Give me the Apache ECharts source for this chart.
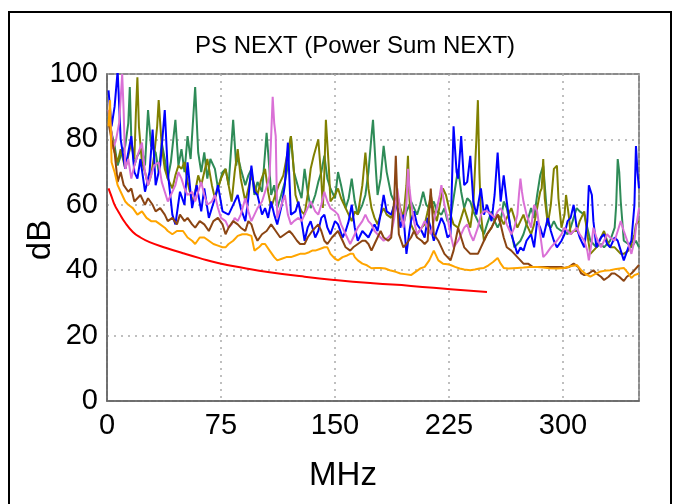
<!DOCTYPE html>
<html>
<head>
<meta charset="utf-8">
<script src="https://cdn.jsdelivr.net/npm/echarts@6/dist/echarts.min.js"></script>
<style>
html,body{margin:0;padding:0;background:#fff;}
#chart{width:679px;height:504px;}
</style>
</head>
<body>
<div id="chart"></div>
<script>
// ---- data (MHz, dB) ----
const titleText = "PS NEXT (Power Sum NEXT)";
const xName = "MHz";
const yName = "dB";
const xTicks = [0, 75, 150, 225, 300];
const yTicks = [0, 20, 40, 60, 80, 100];

const limitRed = [[1,65],[3,62.5],[5,60],[8,57.5],[12,54.5],[17,51.7],[22,50],[28,48.6],[39,46.8],[50,45.2],[61,43.7],[73,42.2],[90,40.7],[107,39.4],[130,38],[150,37],[175,36],[200,35.2],[226,34.2],[250,33.3]];

const pairBlue = [[1,95],[3,84],[5,90],[7,101],[9,80],[12,71],[14,76],[16,81],[18,70],[20,68],[22,74],[25,64],[28,70],[30,83],[32,66],[35,72],[38,89],[40,70],[43,57],[45,54],[48,64],[51,60],[53,73],[56,59],[59,66],[62,58],[64,65],[67,56],[69,59],[71,62],[73,66],[76,58],[80,57],[83,60],[86,63],[88,59],[91,55],[93,62],[95,72],[97,64],[99,63],[102,57],[104,59],[106,56],[108,61],[110,57],[112,54],[115,60],[117,66],[119,79],[121,57],[124,58],[126,61],[128,55],[130,49],[132,53],[134,55],[137,50],[139,52],[141,56],[143,57],[145,53],[147,51],[150,55],[152,54],[155,50],[157,52],[159,55],[161,60],[163,53],[165,49],[168,52],[170,51],[172,50],[174,52],[176,54],[178,52],[180,57],[182,63],[184,58],[187,57],[189,60],[191,59],[193,53],[195,57],[197,45],[199,52],[200,55],[202,58],[204,54],[207,52],[209,50],[211,56],[213,53],[215,49],[217,52],[220,56],[222,54],[224,50],[226,51],[228,84],[230,70],[231,68],[233,81],[235,66],[237,67],[239,75],[241,61],[243,57],[246,65],[248,57],[250,60],[253,55],[255,63],[257,76],[259,61],[261,69],[263,61],[266,51],[268,48],[270,45],[272,47],[274,46],[276,49],[279,51],[281,47],[283,55],[285,53],[287,50],[290,56],[292,52],[294,49],[296,47],[299,49],[301,51],[303,55],[305,56],[307,60],[309,53],[311,50],[314,47],[316,55],[317,66],[319,63],[320,55],[322,47],[325,50],[327,51],[329,48],[331,47],[334,50],[336,49],[338,46],[340,43],[343,47],[345,49],[347,60],[348,78],[349,70],[350,65]];

const pairGreen = [[1,87],[3,82],[5,78],[7,72],[9,75],[12,78],[14,85],[15,96],[16,80],[18,72],[20,75],[23,77],[25,72],[27,89],[29,78],[32,76],[34,70],[36,79],[38,74],[40,68],[42,73],[45,86],[47,72],[49,77],[51,70],[53,81],[55,74],[58,96],[60,76],[62,70],[64,76],[66,68],[68,74],[71,71],[73,65],[76,70],[78,71],[80,66],[83,86],[85,72],[86,75],[88,71],[91,66],[93,69],[95,71],[97,63],[99,67],[102,64],[105,82],[107,70],[108,63],[110,66],[112,59],[114,62],[117,67],[119,72],[121,81],[123,70],[126,65],[128,62],[130,71],[132,64],[134,59],[137,63],[139,67],[141,70],[143,75],[145,68],[147,65],[150,62],[152,70],[154,66],[157,59],[159,62],[161,68],[163,61],[165,57],[168,60],[170,63],[172,70],[174,81],[175,86],[177,70],[178,63],[180,68],[182,78],[184,70],[187,63],[189,61],[191,59],[193,56],[195,54],[197,58],[200,61],[202,59],[204,57],[206,60],[208,64],[210,60],[212,59],[215,61],[217,58],[220,57],[222,59],[224,55],[226,56],[228,62],[231,71],[233,64],[235,59],[237,62],[239,61],[241,58],[244,55],[246,53],[248,51],[250,54],[253,58],[255,55],[257,53],[259,55],[261,61],[263,59],[266,52],[268,47],[270,48],[272,49],[274,51],[276,54],[279,59],[281,56],[283,63],[285,69],[287,72],[289,60],[290,54],[292,53],[294,55],[296,53],[299,52],[301,52],[303,51],[305,53],[307,56],[309,59],[311,58],[314,57],[316,53],[318,49],[320,48],[322,47],[325,48],[327,47],[329,48],[331,49],[334,53],[335,60],[336,74],[337,70],[338,61],[340,49],[343,48],[345,47],[348,49],[350,47]];

const pairOlive = [[1,86],[3,82],[5,76],[7,73],[9,77],[12,71],[14,75],[16,79],[18,74],[19,88],[20,99],[21,84],[23,73],[25,70],[27,66],[29,69],[31,75],[33,84],[34,92],[36,78],[38,71],[40,68],[43,65],[45,69],[47,72],[49,71],[51,73],[53,67],[56,61],[58,64],[60,69],[62,66],[64,70],[66,74],[69,66],[71,62],[73,65],[75,68],[78,71],[80,66],[82,61],[84,70],[86,77],[88,68],[91,61],[93,65],[95,69],[97,66],[99,63],[101,67],[104,71],[106,64],[108,59],[110,62],[113,66],[116,69],[118,74],[121,81],[123,70],[124,63],[126,60],[128,58],[130,57],[132,63],[134,71],[136,75],[139,80],[141,68],[142,59],[143,70],[144,86],[146,71],[147,61],[150,63],[152,65],[154,62],[157,59],[159,57],[161,55],[163,58],[165,57],[168,66],[170,76],[172,65],[174,59],[176,56],[178,54],[180,57],[182,59],[184,57],[187,56],[189,60],[191,63],[193,59],[195,56],[197,66],[198,75],[199,62],[200,54],[202,52],[204,51],[207,53],[209,54],[211,58],[213,63],[215,58],[217,55],[219,60],[221,65],[223,63],[224,61],[226,57],[228,54],[231,53],[233,56],[235,59],[237,56],[239,53],[241,60],[243,80],[244,92],[245,70],[246,57],[248,49],[250,51],[253,53],[255,55],[257,57],[259,56],[261,54],[263,56],[266,59],[268,56],[270,53],[272,55],[274,57],[276,54],[279,51],[281,54],[283,59],[285,64],[286,65],[287,74],[288,62],[290,54],[292,60],[294,71],[296,72],[297,62],[299,53],[301,57],[302,63],[304,56],[305,51],[307,52],[309,52],[311,55],[314,58],[316,51],[318,45],[320,46],[322,47],[325,50],[327,52],[329,49],[331,47],[334,47],[336,46],[338,45],[340,45],[343,46],[345,48],[347,51],[348,54],[350,55]];

const pairViolet = [[1,89],[3,82],[4,77],[6,80],[8,85],[10,100],[11,88],[12,71],[14,74],[16,68],[18,72],[20,75],[23,79],[25,70],[27,66],[29,69],[31,72],[34,73],[36,67],[38,64],[40,61],[43,64],[45,66],[47,70],[49,68],[51,65],[53,63],[56,64],[58,61],[60,64],[62,67],[64,63],[66,60],[69,61],[71,63],[73,59],[75,56],[78,55],[80,53],[82,54],[84,56],[86,55],[88,57],[91,62],[93,58],[95,55],[97,57],[99,59],[102,61],[104,64],[106,67],[107,69],[109,93],[110,85],[111,81],[112,56],[114,59],[117,63],[119,57],[121,54],[123,55],[126,56],[128,55],[130,57],[132,59],[134,61],[137,58],[139,57],[141,60],[143,64],[145,61],[147,59],[150,58],[152,57],[154,54],[157,51],[160,48],[162,50],[165,53],[168,55],[170,57],[172,55],[174,54],[176,52],[178,51],[180,50],[182,49],[185,50],[187,51],[189,56],[191,65],[193,58],[195,53],[197,60],[198,71],[199,65],[200,61],[202,55],[204,51],[207,53],[209,55],[211,53],[213,51],[215,55],[217,59],[219,63],[220,66],[222,60],[224,56],[226,51],[228,47],[231,49],[233,51],[235,53],[237,54],[239,51],[241,49],[244,53],[246,57],[248,58],[250,58],[253,57],[255,56],[257,58],[259,59],[261,57],[263,54],[266,51],[268,53],[270,57],[271,63],[272,68],[273,64],[274,61],[276,57],[279,53],[281,60],[283,58],[285,51],[287,44],[289,45],[292,47],[294,48],[296,49],[299,51],[301,53],[303,52],[305,51],[307,52],[309,53],[311,51],[314,49],[316,46],[317,43],[319,49],[320,53],[322,50],[325,47],[327,49],[329,51],[331,50],[334,49],[336,52],[338,55],[340,52],[343,48],[345,45],[347,49],[348,53],[350,59]];

const pairBrown = [[1,85],[3,80],[5,76],[7,67],[9,70],[11,66],[14,64],[16,65],[18,61],[20,62],[22,63],[25,60],[27,62],[30,60],[32,58],[35,59],[38,57],[40,55],[43,56],[46,54],[48,57],[51,55],[53,56],[56,54],[58,53],[61,55],[64,54],[67,52],[70,55],[73,56],[76,54],[78,51],[80,53],[83,55],[86,54],[88,53],[91,52],[93,55],[95,54],[97,51],[99,49],[102,51],[105,52],[108,54],[111,52],[114,50],[117,51],[120,52],[122,51],[125,49],[127,48],[130,48],[132,50],[135,52],[137,53],[139,54],[141,52],[143,49],[145,48],[148,50],[150,51],[152,52],[155,49],[157,47],[160,46],[162,47],[165,48],[168,49],[170,49],[172,48],[174,46],[176,48],[178,50],[180,52],[182,50],[185,49],[187,50],[189,62],[190,75],[191,62],[192,51],[195,47],[197,48],[200,50],[202,52],[204,50],[207,49],[209,48],[211,49],[212,58],[213,65],[214,58],[215,51],[218,49],[220,47],[222,45],[224,44],[226,43],[228,46],[231,53],[233,50],[235,47],[237,46],[239,45],[241,45],[244,45],[246,47],[248,49],[250,51],[253,53],[255,55],[257,57],[259,54],[261,50],[263,47],[266,46],[268,45],[270,44],[272,43],[274,42],[277,42],[280,41],[283,41],[286,41],[289,41],[292,41],[296,41],[299,41],[301,40.7],[304,41],[307,42],[310,41],[312,39],[314,38.5],[317,39],[320,40],[322,39],[325,38],[327,37],[330,38],[332,39],[334,39],[337,38],[340,36.7],[342,38],[345,39],[347,40],[350,41.6]];

const pairOrange = [[1,84],[2,92],[3,73],[5,70],[7,66],[9,64],[12,61],[14,60],[17,59],[20,57],[23,58],[26,56],[29,55],[32,55],[35,54],[38,53],[40,52],[43,51],[46,52],[50,52],[53,50],[56,49],[58,48],[61,50],[64,50],[67,49],[70,48],[73,47.5],[76,47],[78,47],[80,48],[83,49],[86,50.5],[89,51],[92,51],[95,50.5],[97,46],[100,47],[102,48],[104,48],[107,46],[110,44],[112,43],[115,43.5],[118,44],[121,44],[124,44.5],[127,45],[130,45],[133,45.5],[135,46],[137,46],[140,46.5],[143,47],[145,47],[147,45],[150,43.5],[152,43],[155,44],[158,44.5],[160,45],[162,45],[163,44],[165,43],[168,42],[171,41.5],[174,40.6],[177,40.7],[180,40.7],[183,40.5],[186,40],[190,39.5],[193,39],[196,38.8],[200,38.5],[203,39.5],[206,40.5],[209,41],[212,43],[215,46],[218,43],[221,42],[224,41.8],[226,41.6],[229,41],[232,40.5],[235,40.2],[239,40],[242,40.2],[245,40.5],[248,40.7],[251,41.5],[254,42.5],[257,43.7],[259,42],[261,40.7],[264,40.5],[267,40.6],[270,40.7],[274,40.8],[278,41],[283,41],[287,40.8],[291,40.6],[296,40.5],[301,40.7],[305,41.2],[309,41.6],[312,40],[315,38.8],[318,38],[321,38.8],[324,39.5],[327,39.8],[331,40],[335,40.4],[340,40.7],[343,39],[345,37.6],[347,38.5],[350,39]];

const seriesList = [
  {name: "green",  color: "#2e8b57", data: pairGreen},
  {name: "olive",  color: "#808000", data: pairOlive},
  {name: "blue",   color: "#0000ff", data: pairBlue},
  {name: "violet", color: "#da70d6", data: pairViolet},
  {name: "brown",  color: "#8b4513", data: pairBrown},
  {name: "orange", color: "#ffa500", data: pairOrange},
  {name: "limit",  color: "#ff0000", data: limitRed, smooth: true}
];

const FONT = "'Liberation Sans', Arial, Helvetica, sans-serif";
const chart = echarts.init(document.getElementById('chart'), null, {renderer: 'canvas'});

const option = {
  animation: false,
  backgroundColor: '#ffffff',
  grid: {left: 107, right: 40, top: 74, bottom: 103, show: true, borderColor: '#666', borderWidth: 1.5, backgroundColor: 'transparent'},
  xAxis: {
    type: 'value', min: xTicks[0], max: 350, interval: xTicks[1] - xTicks[0],
    axisLine: {show: true, lineStyle: {color: '#666', width: 1.5}},
    axisTick: {show: false},
    axisLabel: {color: '#000', fontSize: 29, fontFamily: FONT, margin: 10, showMaxLabel: false,
      formatter: v => xTicks.indexOf(v) >= 0 ? String(v) : ''},
    splitLine: {show: true, lineStyle: {color: '#aaa', width: 1.5, type: [2, 5]}}
  },
  yAxis: {
    type: 'value', min: yTicks[0], max: yTicks[yTicks.length - 1], interval: yTicks[1] - yTicks[0],
    axisLine: {show: true, lineStyle: {color: '#666', width: 1.5}},
    axisTick: {show: false},
    axisLabel: {color: '#000', fontSize: 29, fontFamily: FONT, margin: 9},
    splitLine: {show: true, lineStyle: {color: '#aaa', width: 1.5, type: [2, 5]}}
  },
  graphic: [
    {type: 'rect', silent: true, z: 100, shape: {x: 9, y: 12, width: 662, height: 540},
      style: {fill: 'none', stroke: '#000', lineWidth: 2}},
    {type: 'text', silent: true, x: 355, y: 46, style: {text: titleText, font: '24px ' + FONT, fill: '#000', textAlign: 'center', textVerticalAlign: 'middle'}},
    {type: 'text', silent: true, x: 41, y: 240, rotation: Math.PI / 2, style: {text: yName, font: '33px ' + FONT, fill: '#000', textAlign: 'center', textVerticalAlign: 'middle'}},
    {type: 'text', silent: true, x: 343, y: 476, style: {text: xName, font: '33px ' + FONT, fill: '#000', textAlign: 'center', textVerticalAlign: 'middle'}}
  ],
  series: seriesList.map(s => ({
    name: s.name, type: 'line', data: s.data, showSymbol: false, symbol: 'none',
    smooth: !!s.smooth, clip: true,
    lineStyle: {color: s.color, width: 2}, itemStyle: {color: s.color}
  }))
};
chart.setOption(option);
</script>
</body>
</html>
